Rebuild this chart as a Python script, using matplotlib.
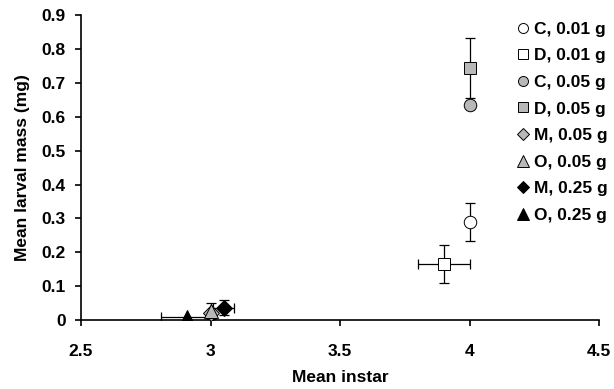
import matplotlib.pyplot as plt

plt.rcParams['font.family'] = ['Liberation Sans', 'DejaVu Sans']
plt.rcParams['font.weight'] = 'bold'

labels = ['C, 0.01 g', 'D, 0.01 g', 'C, 0.05 g', 'D, 0.05 g',
          'M, 0.05 g', 'O, 0.05 g', 'M, 0.25 g', 'O, 0.25 g']
instar = [4.0, 3.90, 4.0, 4.0, 3.0, 3.0, 3.05, 2.91]
mass = [0.29, 0.165, 0.636, 0.745, 0.02, 0.027, 0.037, 0.008]
instar_err = [0, 0.1, 0, 0, 0, 0, 0.04, 0.1]
mass_err = [0.055, 0.056, 0, 0.088, 0, 0.025, 0.022, 0]
markers = ['o', 's', 'o', 's', 'D', '^', 'D', '^']
colors = ['white', 'white', '#b8b8b8', '#b8b8b8', '#b8b8b8', '#b8b8b8', 'black', 'black']
sizes = [9, 9, 9, 9, 8, 10, 8, 10]

fig = plt.figure(figsize=(6.14, 3.89), dpi=100)
ax = fig.add_axes([0.132, 0.177, 0.844, 0.784])

handles = []
for i in range(len(labels)):
    ax.errorbar(instar[i], mass[i],
                xerr=instar_err[i] if instar_err[i] else None,
                yerr=mass_err[i] if mass_err[i] else None,
                fmt='none', ecolor='black', elinewidth=0.9, capsize=3.5, capthick=0.9, zorder=2)
    h, = ax.plot(instar[i], mass[i], linestyle='none', marker=markers[i], ms=sizes[i],
                 mfc=colors[i], mec='black', mew=0.7, zorder=3, label=labels[i])
    handles.append(h)

ax.set_xlim(2.5, 4.5)
ax.set_ylim(0, 0.9)
ax.set_xticks([2.5, 3, 3.5, 4, 4.5])
ax.set_xticklabels(['2.5', '3', '3.5', '4', '4.5'])
ax.set_yticks([0, 0.1, 0.2, 0.3, 0.4, 0.5, 0.6, 0.7, 0.8, 0.9])
ax.set_yticklabels(['0', '0.1', '0.2', '0.3', '0.4', '0.5', '0.6', '0.7', '0.8', '0.9'])
ax.tick_params(labelsize=12.5, length=4, width=1.2)
ax.tick_params(axis='x', pad=13)
ax.tick_params(axis='y', pad=7)
ax.spines['top'].set_visible(False)
ax.spines['right'].set_visible(False)
ax.spines['left'].set_linewidth(1.2)
ax.spines['bottom'].set_linewidth(1.2)
ax.set_xlabel('Mean instar', fontsize=12.5, fontweight='bold', labelpad=8)
ax.set_ylabel('Mean larval mass (mg)', fontsize=12.5, fontweight='bold', labelpad=8)

leg = fig.legend(handles=handles, loc='upper left', bbox_to_anchor=(0.83, 0.967),
                 frameon=False, fontsize=12.5, handlelength=0.55, handletextpad=0.35,
                 labelspacing=0.66, markerscale=0.8, borderpad=0)
for t in leg.get_texts():
    t.set_fontweight('bold')

fig.savefig('out.png', dpi=100)
